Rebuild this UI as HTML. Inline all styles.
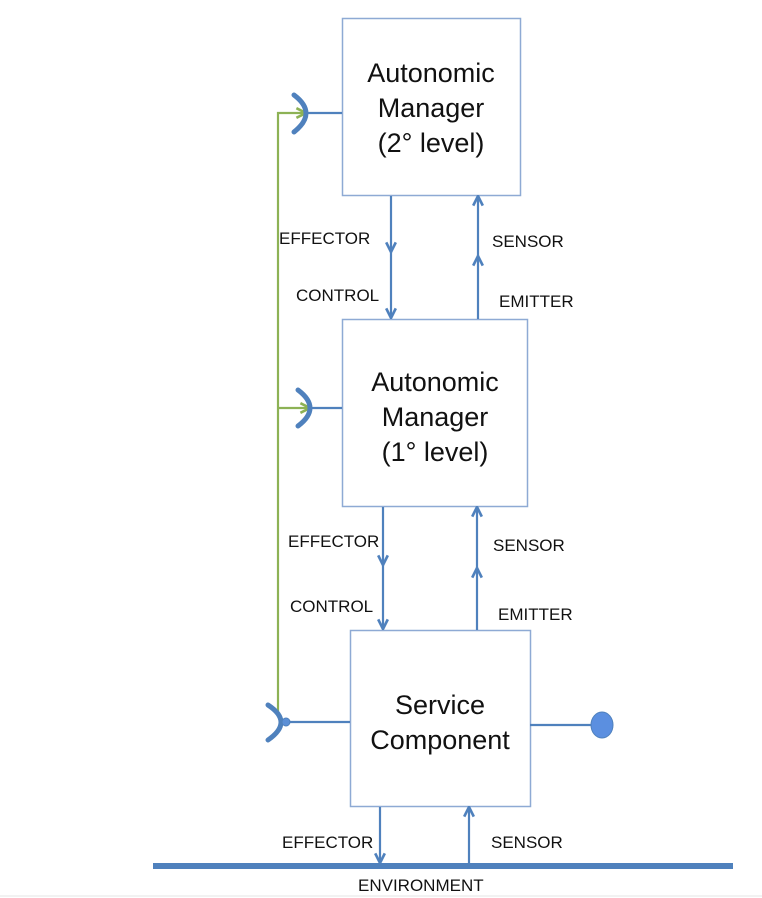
<!DOCTYPE html>
<html><head><meta charset="utf-8"><style>
html,body{margin:0;padding:0;background:#fff;}
svg{display:block;}
text{font-family:"Liberation Sans",sans-serif;fill:#111;}
.big{font-size:27px;text-anchor:middle;}
.sm{font-size:17px;}
</style></head><body>
<svg width="762" height="898" viewBox="0 0 762 898" xmlns="http://www.w3.org/2000/svg">
<defs>
<marker id="ah" viewBox="0 0 10 10" refX="9" refY="5" markerWidth="12" markerHeight="12" orient="auto" markerUnits="userSpaceOnUse">
<path d="M1,1 L9,5 L1,9" fill="none" stroke="#4f81bd" stroke-width="2.2"/></marker>
<marker id="ag" viewBox="0 0 10 10" refX="9" refY="5" markerWidth="12" markerHeight="12" orient="auto" markerUnits="userSpaceOnUse">
<path d="M1,1 L9,5 L1,9" fill="none" stroke="#8db255" stroke-width="2.2"/></marker>
</defs>
<line x1="0" y1="896" x2="762" y2="896" stroke="#e4e4e4" stroke-width="1"/>
<rect x="342.5" y="18.5" width="178" height="177" fill="#fff" stroke="#8eaad4" stroke-width="1.5"/>
<rect x="342.5" y="319.5" width="185" height="187" fill="#fff" stroke="#8eaad4" stroke-width="1.5"/>
<rect x="350.5" y="630.5" width="180" height="176" fill="#fff" stroke="#8eaad4" stroke-width="1.5"/>
<text class="big" x="431" y="82">Autonomic</text>
<text class="big" x="431" y="117">Manager</text>
<text class="big" x="431" y="152">(2° level)</text>
<text class="big" x="435" y="391">Autonomic</text>
<text class="big" x="435" y="426">Manager</text>
<text class="big" x="435" y="461">(1° level)</text>
<text class="big" x="440" y="714">Service</text>
<text class="big" x="440" y="749">Component</text>
<g stroke="#4f81bd" stroke-width="2.2" fill="none">
<line x1="391" y1="196" x2="391" y2="252" marker-end="url(#ah)"/>
<line x1="391" y1="250" x2="391" y2="318" marker-end="url(#ah)"/>
<line x1="478" y1="319" x2="478" y2="256" marker-end="url(#ah)"/>
<line x1="478" y1="260" x2="478" y2="196" marker-end="url(#ah)"/>
<line x1="383" y1="507" x2="383" y2="565" marker-end="url(#ah)"/>
<line x1="383" y1="562" x2="383" y2="629" marker-end="url(#ah)"/>
<line x1="477" y1="630" x2="477" y2="568" marker-end="url(#ah)"/>
<line x1="477" y1="572" x2="477" y2="507" marker-end="url(#ah)"/>
<line x1="380" y1="807" x2="380" y2="863" marker-end="url(#ah)"/>
<line x1="469" y1="864" x2="469" y2="807" marker-end="url(#ah)"/>
<line x1="308" y1="113" x2="342" y2="113"/>
<line x1="312" y1="408" x2="342" y2="408"/>
<line x1="286" y1="722" x2="350" y2="722"/>
<line x1="530" y1="725" x2="592" y2="725"/>
</g>
<g stroke="#8db255" stroke-width="2.2" fill="none">
<polyline points="285,722 278,715 278,113 306,113" marker-end="url(#ag)"/>
<line x1="278" y1="408" x2="310" y2="408" marker-end="url(#ag)"/>
</g>
<g stroke="#4f81bd" stroke-width="5" fill="none" stroke-linecap="round">
<path d="M294,95 Q318,113 294,132"/>
<path d="M298,390 Q322,408 298,426"/>
<path d="M268,705 Q294,722 268,740"/>
</g>
<circle cx="286" cy="722" r="4" fill="#5b8fd6" stroke="#4f81bd"/>
<ellipse cx="602" cy="725" rx="11" ry="13" fill="#5b8fe0" stroke="#4f81bd" stroke-width="1"/>
<line x1="153" y1="866" x2="733" y2="866" stroke="#4f81bd" stroke-width="6"/>
<text class="sm" x="279" y="244">EFFECTOR</text>
<text class="sm" x="296" y="301">CONTROL</text>
<text class="sm" x="492" y="247">SENSOR</text>
<text class="sm" x="499" y="307">EMITTER</text>
<text class="sm" x="288" y="547">EFFECTOR</text>
<text class="sm" x="290" y="612">CONTROL</text>
<text class="sm" x="493" y="551">SENSOR</text>
<text class="sm" x="498" y="620">EMITTER</text>
<text class="sm" x="282" y="848">EFFECTOR</text>
<text class="sm" x="491" y="848">SENSOR</text>
<text class="sm" x="358" y="891">ENVIRONMENT</text>
</svg>
</body></html>
